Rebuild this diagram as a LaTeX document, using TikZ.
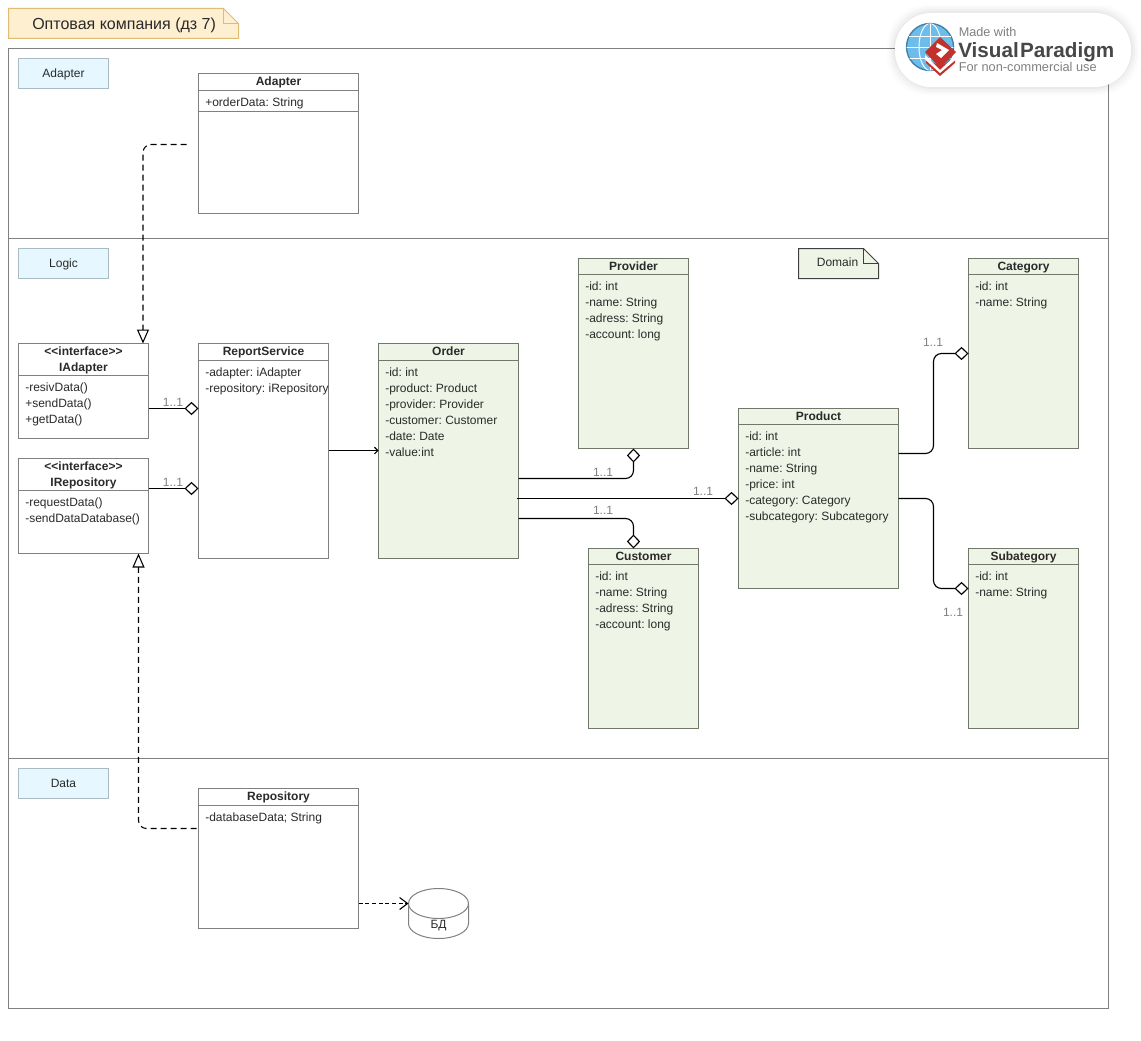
\documentclass[tikz,border=0pt]{standalone}
\usepackage{fontspec}
\setmainfont{Liberation Sans}
\usetikzlibrary{arrows.meta,fit}
\frenchspacing
\definecolor{boxline}{HTML}{808080}
\definecolor{greenfill}{HTML}{EFF5E6}
\definecolor{greenline}{HTML}{70786A}
\definecolor{notefill}{HTML}{FDEFD0}
\definecolor{noteline}{HTML}{DDBD74}
\definecolor{tagfill}{HTML}{E6F7FF}
\definecolor{tagline}{HTML}{ABBBC3}
\definecolor{multgray}{HTML}{808080}
\definecolor{txt}{HTML}{2A2A2A}
\definecolor{globefill}{HTML}{6DBDEB}
\definecolor{globeline}{HTML}{3F7FA8}
\definecolor{vpred}{HTML}{C4302B}
\tikzset{
  px/.style={x=0.75pt,y=-0.75pt},
  frameline/.style={draw=boxline,line width=0.75pt},
  classbox/.style={draw=boxline,line width=0.75pt,fill=white,inner sep=0pt,outer sep=0pt},
  greenbox/.style={classbox,draw=greenline,fill=greenfill},
  titletext/.style={font=\fontsize{9}{11.6}\selectfont\bfseries,text=txt,align=center,inner sep=0pt},
  attrtext/.style={font=\fontsize{9}{12}\selectfont,text=txt,align=left,anchor=north west,inner sep=0pt},
  tagbox/.style={draw=tagline,fill=tagfill,line width=0.75pt,inner sep=0pt,outer sep=0pt},
  tagtext/.style={font=\fontsize{9}{11}\selectfont,text=txt,inner sep=0pt},
  mult/.style={font=\fontsize{9}{11}\selectfont,text=multgray,inner sep=0pt},
  conn/.style={draw=black,line width=0.85pt,rounded corners=6pt},
  aggr/.style={conn,-{Diamond[fill=white,length=10.5pt,width=10pt,line width=0.85pt]}},
  realize/.style={draw=black,line width=0.8pt,rounded corners=6pt,dash pattern=on 4.5pt off 3pt,
    -{Triangle[fill=white,length=10.5pt,width=9pt,line width=0.8pt,sep=0pt]}},
}
% name, x1, y1, x2, y2, header bottom, title, attrs, style
\newcommand{\umlclass}[9]{%
  \node[#9,fit={(#2,#3)(#4,#5)}] (#1) {};
  \draw[#9,fill=none] (#2,#6) -- (#4,#6);
  \node[titletext] (#1title) at ({(#2+#4)/2},{(#3+#6)/2+0.7}) {#7};
  \node[attrtext] (#1attrs) at (#2+6.5,#6+4.5) {#8};
}
\begin{document}
\begin{tikzpicture}[px]
\useasboundingbox[fill=white] (0,0) rectangle (1141,1041);
% frames
\draw[frameline] (8.5,48.5) rectangle (1108.5,1008.5);
\draw[frameline] (8.5,238.5) -- (1108.5,238.5);
\draw[frameline] (8.5,758.5) -- (1108.5,758.5);
% title note
\draw[draw=noteline,fill=notefill,line width=0.75pt] (8.5,8.5) -- (223.5,8.5) -- (238.5,23.5) -- (238.5,38.5) -- (8.5,38.5) -- cycle;
\draw[draw=noteline,line width=0.75pt] (223.5,8.5) -- (223.5,23.5) -- (238.5,23.5);
\node[font=\fontsize{12}{14}\selectfont,text=txt,anchor=west,inner sep=0pt] (titlenote) at (32,25.3) {\strut Оптовая компания (дз 7)};
% layer tags
\node[tagbox,fit={(18.5,58.5)(108.5,88.5)}] (tagadapter) {};
\node[tagtext] (tagadaptertext) at (63.5,75) {\strut Adapter};
\node[tagbox,fit={(18.5,248.5)(108.5,278.5)}] (taglogic) {};
\node[tagtext] (taglogictext) at (63.5,265) {\strut Logic};
\node[tagbox,fit={(18.5,768.5)(108.5,798.5)}] (tagdata) {};
\node[tagtext] (tagdatatext) at (63.5,785) {\strut Data};
% domain note
\draw[draw=black!75,fill=greenfill,line width=0.75pt] (798.5,248.5) -- (863.5,248.5) -- (878.5,263.5) -- (878.5,278.5) -- (798.5,278.5) -- cycle;
\draw[draw=black!75,line width=0.75pt] (863.5,248.5) -- (863.5,263.5) -- (878.5,263.5);
\node[tagtext] (domainnote) at (837.5,264) {\strut Domain};
% classes
\umlclass{adapter}{198.5}{73.5}{358.5}{213.5}{90.5}{\strut Adapter}{\strut+orderData: String}{classbox}
\draw[classbox,fill=none] (198.5,111.5) -- (358.5,111.5);
\umlclass{iadapter}{18.5}{343.5}{148.5}{438.5}{375.5}{\strut<{}<interface>{}>\\\strut IAdapter}{\strut-resivData()\\\strut+sendData()\\\strut+getData()}{classbox}
\umlclass{irepo}{18.5}{458.5}{148.5}{553.5}{490.5}{\strut<{}<interface>{}>\\\strut IRepository}{\strut-requestData()\\\strut-sendDataDatabase()}{classbox}
\umlclass{report}{198.5}{343.5}{328.5}{558.5}{360.5}{\strut ReportService}{\strut-adapter: iAdapter\\\strut-repository: iRepository}{classbox}
\umlclass{order}{378.5}{343.5}{518.5}{558.5}{360.5}{\strut Order}{\strut-id: int\\\strut-product: Product\\\strut-provider: Provider\\\strut-customer: Customer\\\strut-date: Date\\\strut-value:int}{greenbox}
\umlclass{provider}{578.5}{258.5}{688.5}{448.5}{274.5}{\strut Provider}{\strut-id: int\\\strut-name: String\\\strut-adress: String\\\strut-account: long}{greenbox}
\umlclass{customer}{588.5}{548.5}{698.5}{728.5}{564.5}{\strut Customer}{\strut-id: int\\\strut-name: String\\\strut-adress: String\\\strut-account: long}{greenbox}
\umlclass{product}{738.5}{408.5}{898.5}{588.5}{424.5}{\strut Product}{\strut-id: int\\\strut-article: int\\\strut-name: String\\\strut-price: int\\\strut-category: Category\\\strut-subcategory: Subcategory}{greenbox}
\umlclass{category}{968.5}{258.5}{1078.5}{448.5}{274.5}{\strut Category}{\strut-id: int\\\strut-name: String}{greenbox}
\umlclass{subategory}{968.5}{548.5}{1078.5}{728.5}{564.5}{\strut Subategory}{\strut-id: int\\\strut-name: String}{greenbox}
\umlclass{repository}{198.5}{788.5}{358.5}{928.5}{805.5}{\strut Repository}{\strut-databaseData; String}{classbox}
% database
\draw[draw=boxline,fill=white,line width=0.75pt] (408.5,903.5) -- (408.5,923.5) arc[start angle=180,end angle=0,x radius=30,y radius=15] -- (468.5,903.5);
\draw[draw=boxline,fill=white,line width=0.75pt] (438.5,903.5) ellipse[x radius=30,y radius=15];
\node[font=\fontsize{9}{11}\selectfont,text=txt,inner sep=0pt] (db) at (438.5,926) {БД};
\coordinate (dbin) at (408.5,903.5);
% connectors
\coordinate (adapterout) at (186.5,144.5);
\coordinate (repoout) at (196.5,828.5);
\draw[realize] (adapterout) -- (143,144.5) -- (iadapter.north -| 143,0);
\draw[realize] (repoout) -- (138.5,828.5) -- (irepo.south -| 138.5,0);
\draw[draw=black,line width=0.8pt,dash pattern=on 3pt off 2pt,-{Straight Barb[length=6pt,width=9pt,line width=0.8pt]}] (repository.east |- dbin) -- (dbin);
\draw[aggr] (iadapter.east |- 0,408.5) -- (report.west |- 0,408.5);
\draw[aggr] (irepo.east |- 0,488.5) -- (report.west |- 0,488.5);
\draw[draw=black,line width=1.2pt,-{Straight Barb[length=2.5pt,width=5pt,line width=0.8pt]}] (report.east |- 0,450.5) -- (order.west |- 0,450.5);
\draw[aggr] (order.east |- 0,478.5) -- (633.5,478.5) -- (provider.south -| 633.5,0);
\draw[aggr] (516.5,498.5) -- (product.west |- 0,498.5);
\draw[aggr] (order.east |- 0,518.5) -- (633.5,518.5) -- (customer.north -| 633.5,0);
\draw[aggr] (product.east |- 0,453.5) -- (933.5,453.5) -- (933.5,353.5) -- (category.west |- 0,353.5);
\draw[aggr] (product.east |- 0,498.5) -- (933.5,498.5) -- (933.5,588.5) -- (subategory.west |- 0,588.5);
% multiplicities
\node[mult] (m1) at (173,402) {1..1};
\node[mult] (m2) at (173,482) {1..1};
\node[mult] (m3) at (603,472) {1..1};
\node[mult] (m4) at (703,491.5) {1..1};
\node[mult] (m5) at (603,510) {1..1};
\node[mult] (m6) at (933,342) {1..1};
\node[mult] (m7) at (953,612) {1..1};
% watermark badge
\foreach \g/\o in {8/0.012,6/0.018,4/0.025,2/0.03}{
  \fill[black,opacity=\o,rounded corners=30pt] (895-\g,13-\g) rectangle (1131+\g,87+\g);
}
\fill[white,rounded corners=27pt] (895,13) rectangle (1131,87);
\begin{scope}
  \draw[draw=globeline,fill=globefill,line width=1pt] (930,47) circle[radius=23.5];
  \clip (930,47) circle[radius=23.5];
  \draw[white,line width=0.7pt] (906,47) -- (954,47) (906,36) -- (954,36) (906,58) -- (954,58) (930,23) -- (930,71);
  \draw[white,line width=0.7pt] (930,47) ellipse[x radius=11,y radius=23.5];
\end{scope}
% logo layers
\fill[vpred] (926,59) -- (940,66) -- (955,59) -- (955,63) -- (940,76) -- (926,63) -- cycle;
\fill[white] (925,55) -- (940,70) -- (956,55) -- (956,59.5) -- (940,73) -- (925,59.5) -- cycle;
\fill[vpred] (940,37) -- (956,52) -- (940,68) -- (925,52) -- cycle;
\fill[white] (937,43) -- (949,50) -- (941,58) -- (936,54) -- (942,50) -- (936,47) -- cycle;
\node[font=\fontsize{9.5}{11}\selectfont,text=black!50,anchor=west,inner sep=0pt] (vp1) at (958.5,34) {\strut Made with};
\node[font=\fontsize{15.5}{18}\selectfont\bfseries,text=black!72,anchor=west,inner sep=0pt] (vp2) at (958,52.5) {\strut Visual\kern1pt Paradigm};
\node[font=\fontsize{9.6}{11}\selectfont,text=black!50,anchor=west,inner sep=0pt] (vp3) at (958.5,69) {\strut For non-commercial use};
\end{tikzpicture}
\end{document}
